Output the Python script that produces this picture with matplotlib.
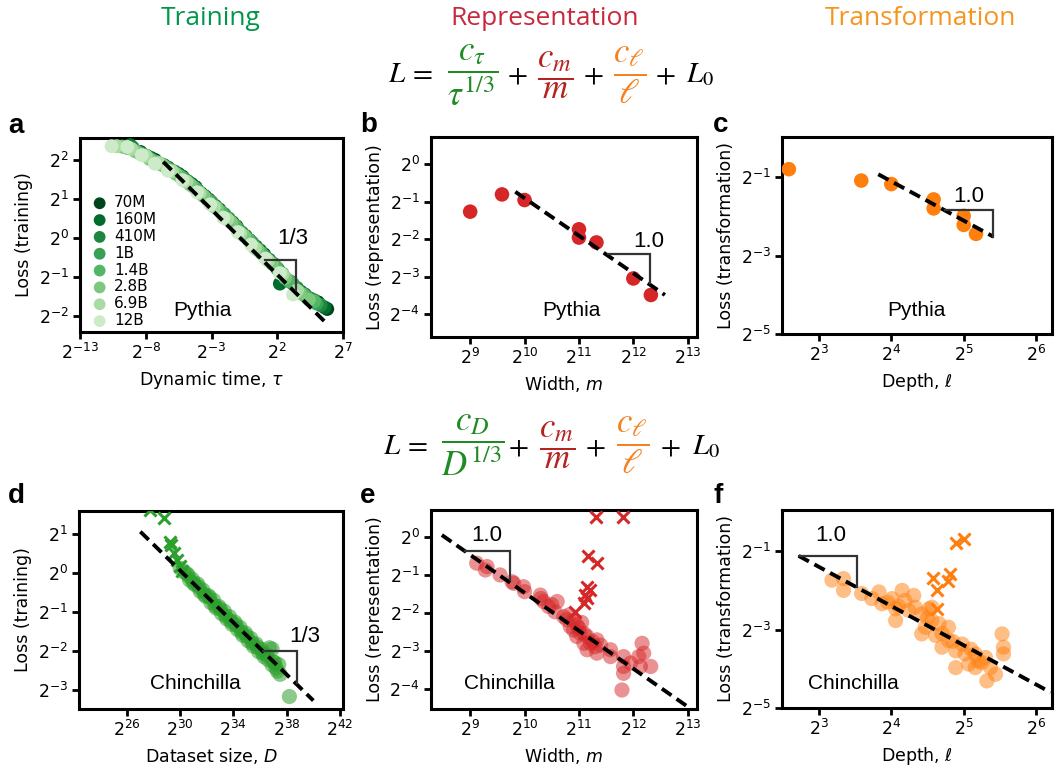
import numpy as np
import matplotlib
matplotlib.use("Agg")
import matplotlib.pyplot as plt
from matplotlib.ticker import FixedLocator, NullLocator, LogFormatterSciNotation

# ---------------- data (log2 values) ----------------
pythia_sizes = ["70M", "160M", "410M", "1B", "1.4B", "2.8B", "6.9B", "12B"]

tau_70M = [-8.4, -7.3, -6.3, -5.2, -4.2, -3.2, -2.1, -1.1, -0.1, 1.0, 2.0, 3.0, 4.1, 5.1, 5.8]
loss_70M = [2.20, 2.00, 1.80, 1.57, 1.30, 0.98, 0.62, 0.30, -0.06, -0.42, -0.78, -1.12, -1.45, -1.65, -1.82]
tau_160M = [-9.2, -7.6, -6.6, -5.5, -4.5, -3.5, -2.4, -1.4, -0.4, 0.7, 1.7, 2.2, 3.8, 4.8, 5.6]
loss_160M = [2.38, 2.05, 1.86, 1.64, 1.38, 1.07, 0.73, 0.40, 0.05, -0.32, -0.66, -1.17, -1.38, -1.60, -1.78]
tau_410M = [-9.0, -7.9, -6.9, -5.8, -4.8, -3.8, -2.7, -1.7, -0.7, 0.4, 1.4, 2.4, 3.5, 4.5, 5.3]
loss_410M = [2.32, 2.10, 1.90, 1.70, 1.45, 1.15, 0.82, 0.50, 0.14, -0.22, -0.56, -0.92, -1.28, -1.55, -1.72]
tau_1B = [-9.3, -8.2, -7.2, -6.1, -5.1, -4.1, -3.0, -2.0, -1.0, 0.1, 1.1, 2.1, 3.2, 4.2, 5.0]
loss_1B = [2.30, 2.14, 1.95, 1.74, 1.53, 1.24, 0.92, 0.60, 0.24, -0.12, -0.48, -0.82, -1.18, -1.50, -1.68]
tau_1_4B = [-9.5, -8.5, -7.4, -6.4, -5.4, -4.3, -3.3, -2.3, -1.2, -0.2, 0.8, 1.9, 2.9, 4.0, 4.8]
loss_1_4B = [2.32, 2.18, 1.97, 1.80, 1.58, 1.29, 0.98, 0.67, 0.31, -0.04, -0.39, -0.74, -1.10, -1.45, -1.62]
tau_2_8B = [-9.8, -8.8, -7.7, -6.7, -5.7, -4.6, -3.6, -2.6, -1.5, -0.5, 0.5, 1.6, 2.6, 3.7, 4.4]
loss_2_8B = [2.34, 2.22, 2.02, 1.86, 1.64, 1.36, 1.07, 0.76, 0.40, 0.05, -0.30, -0.66, -1.02, -1.40, -1.58]
tau_6_9B = [-10.2, -9.1, -8.0, -7.0, -6.0, -4.9, -3.9, -2.8, -1.8, -0.8, 0.3, 1.3, 2.4, 3.5]
loss_6_9B = [2.35, 2.28, 2.10, 1.92, 1.71, 1.44, 1.15, 0.80, 0.48, 0.12, -0.26, -0.58, -0.93, -1.35]
tau_12B = [-10.6, -9.4, -8.3, -7.3, -6.3, -5.2, -4.1, -3.1, -2.1, -1.0, 0.0, 1.1, 2.2, 3.2]
loss_12B = [2.35, 2.33, 2.12, 1.90, 1.72, 1.48, 1.17, 0.86, 0.52, 0.15, -0.17, -0.53, -0.90, -1.45]

pythia_width = [512, 768, 1024, 2048, 2048, 2560, 4096, 5120]
pythia_rep_loss = [-1.27, -0.81, -0.96, -1.74, -1.96, -2.09, -3.05, -3.49]
pythia_depth = [6, 12, 16, 24, 24, 32, 32, 36]
pythia_tra_loss = [-0.80, -1.09, -1.18, -1.57, -1.80, -1.99, -2.22, -2.45]

chin_D = [30.0, 30.3, 30.5, 30.7, 30.9, 31.1, 31.3, 31.5, 31.7, 31.9, 32.1, 32.3, 32.5, 32.7, 32.9,
          33.1, 33.3, 33.5, 33.7, 33.9, 34.1, 34.3, 34.5, 34.7, 34.9, 35.1, 35.3, 35.5, 35.7, 35.9,
          36.1, 36.3, 36.5, 36.7, 36.9, 37.1, 37.3, 37.5, 30.6, 31.0, 31.4, 31.8, 32.2, 32.6, 33.0,
          33.4, 33.8, 34.2, 34.6, 35.0, 35.4, 35.8, 36.2, 36.6, 37.0, 37.2, 36.9, 37.4, 38.2]
chin_train_loss = [0.12, 0.02, -0.02, -0.18, -0.16, -0.30, -0.28, -0.47, -0.44, -0.60, -0.58, -0.76,
                   -0.70, -0.90, -0.86, -1.04, -0.98, -1.18, -1.12, -1.32, -1.26, -1.45, -1.40, -1.60,
                   -1.54, -1.74, -1.68, -1.88, -1.82, -2.02, -1.96, -2.15, -2.10, -1.92, -2.36, -2.30,
                   -2.52, -2.60, -0.06, -0.26, -0.36, -0.55, -0.62, -0.84, -0.92, -1.10, -1.24, -1.33,
                   -1.52, -1.62, -1.80, -1.90, -2.06, -2.22, -2.28, -2.44, -1.95, -2.35, -3.17]
chin_D_out = [27.75, 28.8, 29.2, 29.3, 29.5, 29.75, 29.98, 30.1]
chin_train_out = [1.62, 1.40, 0.80, 0.72, 0.50, 0.33, 0.18, 0.05]

chin_width = [9.12, 9.31, 9.28, 9.55, 9.77, 9.80, 9.98, 10.0, 10.29, 10.35, 10.6, 10.44, 10.56, 10.72,
              10.78, 10.84, 10.96, 10.9, 11.02, 10.96, 11.09, 11.15, 11.21, 11.15, 11.3, 11.33, 11.33,
              11.58, 11.58, 11.82, 11.82, 11.82, 11.95, 12.1, 12.16, 12.19, 12.13, 12.32, 11.79, 10.82,
              10.9, 11.0, 11.05, 11.1, 11.25, 11.4, 10.3, 10.5]
chin_rep_loss = [-0.69, -0.78, -0.87, -1.0, -1.18, -1.22, -1.31, -1.44, -1.53, -1.70, -1.70, -1.83,
                 -1.97, -2.10, -2.18, -2.36, -2.32, -2.45, -2.53, -2.62, -2.80, -2.62, -2.80, -2.97,
                 -2.89, -2.71, -3.06, -2.97, -3.15, -3.15, -3.41, -3.59, -3.32, -3.15, -2.80, -3.06,
                 -3.41, -3.41, -4.03, -2.05, -2.2, -2.4, -2.25, -2.55, -2.75, -2.85, -1.62, -1.78]
chin_width_out = [11.31, 11.81, 11.17, 11.33, 11.15, 11.20, 11.12, 11.15, 11.09, 10.93]
chin_rep_out = [0.52, 0.52, -0.50, -0.69, -1.31, -1.39, -1.53, -1.61, -1.75, -1.97]

chin_depth = [3.18, 3.34, 3.34, 3.59, 3.73, 3.83, 3.87, 4.01, 4.06, 4.19, 4.24, 4.33, 4.42, 4.47, 4.56,
              4.66, 4.61, 4.79, 4.79, 4.70, 4.89, 4.98, 5.02, 4.89, 5.16, 5.16, 5.30, 5.32, 5.37, 5.44,
              5.53, 5.55, 5.55, 4.06, 4.42, 4.52, 4.31, 4.15, 5.07, 5.25, 4.56, 3.95, 4.1, 4.5, 4.7,
              4.85, 5.1, 5.2]
chin_tra_loss = [-1.74, -1.70, -2.0, -2.08, -2.21, -2.04, -2.34, -2.21, -2.47, -2.26, -2.51, -2.43,
                 -2.60, -2.94, -2.77, -2.85, -3.15, -2.94, -3.28, -3.45, -3.54, -3.37, -3.62, -3.97,
                 -3.62, -3.97, -3.71, -4.31, -3.97, -4.14, -3.11, -3.45, -3.62, -2.77, -3.11, -2.47,
                 -2.13, -2.0, -3.88, -3.84, -2.43, -2.3, -2.4, -2.7, -3.1, -3.3, -3.5, -3.8]
chin_depth_out = [4.90, 5.00, 4.58, 4.81, 4.78, 4.63, 4.63]
chin_tra_out = [-0.80, -0.70, -1.68, -1.57, -1.76, -2.00, -2.47]

# ---------------- styling ----------------
W, H = 1057, 765
fig = plt.figure(figsize=(W / 100, H / 100), dpi=100)

def fx(x):
    return x / W

def fy(y):
    return 1 - y / H

def rect(x0, y0, x1, y1):
    return [fx(x0), fy(y1), (x1 - x0) / W, (y1 - y0) / H]

SANS = "Liberation Sans"
GREEN, RED, ORANGE = "#2ca02c", "#d62728", "#ff7f0e"
greens = ["#00441b", "#006d2c", "#1d8641", "#37a055", "#54b567", "#7dc87e", "#a8dca2", "#cdebc8"]

def setup(ax, xlim, ylim, xt, yt, xlabel, ylabel):
    ax.set_xscale("log", base=2)
    ax.set_yscale("log", base=2)
    ax.set_xlim(2.0 ** xlim[0], 2.0 ** xlim[1])
    ax.set_ylim(2.0 ** ylim[0], 2.0 ** ylim[1])
    for axis, t in ((ax.xaxis, xt), (ax.yaxis, yt)):
        axis.set_major_locator(FixedLocator(2.0 ** np.array(t, dtype=float)))
        axis.set_minor_locator(NullLocator())
        axis.set_major_formatter(LogFormatterSciNotation(base=2))
    for s in ax.spines.values():
        s.set_linewidth(2.2)
    ax.tick_params(which="major", direction="out", length=5, width=2, labelsize=12.5, pad=3)
    ax.set_xlabel(xlabel, fontsize=12.5, labelpad=4)
    ax.set_ylabel(ylabel, fontsize=12.5, labelpad=4)

def fit(ax, lx0, lx1, ly0, slope):
    xs = np.array([lx0, lx1])
    ys = ly0 + slope * (xs - lx0)
    ax.plot(2.0 ** xs, 2.0 ** ys, color="black", lw=2.8, dashes=(3, 1.6), zorder=5)

def tri(ax, x0, x1, y0, y1, label, tx, ty):
    ax.plot(2.0 ** np.array([x0, x1, x1]), 2.0 ** np.array([y0, y0, y1]),
            color="#333333", lw=1.6, zorder=6, solid_joinstyle="miter")
    ax.text(2.0 ** tx, 2.0 ** ty, label, fontsize=16, family=SANS, ha="center", va="center", zorder=7)

def tag(ax, text, x, y):
    ax.text(x, y, text, transform=ax.transAxes, fontsize=15, family=SANS, ha="center", va="center")

# ---------------- panel a ----------------
ax = fig.add_axes(rect(80, 138, 343, 332))
setup(ax, (-13, 7), (-2.41, 2.56), [-13, -8, -3, 2, 7], [-2, -1, 0, 1, 2],
      r"Dynamic time, $\tau$", "Loss (training)")
taus = [tau_70M, tau_160M, tau_410M, tau_1B, tau_1_4B, tau_2_8B, tau_6_9B, tau_12B]
losses = [loss_70M, loss_160M, loss_410M, loss_1B, loss_1_4B, loss_2_8B, loss_6_9B, loss_12B]
handles = []
for t, l, c, name in zip(taus, losses, greens, pythia_sizes):
    h = ax.scatter(np.exp2(t), np.exp2(l), s=100, color=c, edgecolors="none", label=name, zorder=3)
    handles.append(h)
fit(ax, -6.67, 5.76, 1.95, -1 / 3)
tri(ax, 1.07, 3.43, -0.56, -1.34, "1/3", 3.15, -0.02)
tag(ax, "Pythia", 0.467, 0.11)
ax.legend(handles=handles, loc="lower left", bbox_to_anchor=(0.005, -0.035), frameon=False,
          fontsize=11, labelspacing=0.12, handletextpad=0.45, handlelength=1.0,
          borderaxespad=0.3, markerscale=0.85)

# ---------------- panel b ----------------
ax = fig.add_axes(rect(431, 137, 697, 337))
setup(ax, (8.28, 13.17), (-4.61, 0.72), [9, 10, 11, 12, 13], [-4, -3, -2, -1, 0],
      r"Width, $m$", "Loss (representation)")
ax.scatter(pythia_width, np.exp2(pythia_rep_loss), s=110, color=RED, edgecolors="none", zorder=3)
fit(ax, 9.83, 12.58, -0.74, -1)
tri(ax, 11.54, 12.30, -2.41, -3.16, "1.0", 12.29, -2.07)
tag(ax, "Pythia", 0.529, 0.13)

# ---------------- panel c ----------------
ax = fig.add_axes(rect(782, 137, 1052, 334))
setup(ax, (2.49, 6.22), (-5, 0.02), [3, 4, 5, 6], [-5, -3, -1],
      r"Depth, $\ell$", "Loss (transformation)")
ax.scatter(pythia_depth, np.exp2(pythia_tra_loss), s=110, color=ORANGE, edgecolors="none", zorder=3)
fit(ax, 3.82, 5.41, -0.93, -1)
tri(ax, 4.74, 5.40, -1.84, -2.52, "1.0", 5.07, -1.50)
tag(ax, "Pythia", 0.499, 0.118)

# ---------------- panel d ----------------
ax = fig.add_axes(rect(79, 511, 343, 709))
setup(ax, (22.39, 42.23), (-3.49, 1.59), [26, 30, 34, 38, 42], [-3, -2, -1, 0, 1],
      r"Dataset size, $D$", "Loss (training)")
ax.scatter(np.exp2(chin_D), np.exp2(chin_train_loss), s=120, color=GREEN, alpha=0.55,
           edgecolors="none", zorder=3)
ax.scatter(np.exp2(chin_D_out), np.exp2(chin_train_out), s=75, marker="x", color=GREEN,
           linewidths=2.2, zorder=4)
fit(ax, 27.0, 40.0, 1.06, -1 / 3)
tri(ax, 36.24, 38.8, -2.0, -2.83, "1/3", 39.37, -1.63)
tag(ax, "Chinchilla", 0.44, 0.13)

# ---------------- panel e ----------------
ax = fig.add_axes(rect(431, 510, 697, 709))
setup(ax, (8.28, 13.17), (-4.53, 0.71), [9, 10, 11, 12, 13], [-4, -3, -2, -1, 0],
      r"Width, $m$", "Loss (representation)")
ax.scatter(np.exp2(chin_width), np.exp2(chin_rep_loss), s=120, color=RED, alpha=0.5,
           edgecolors="none", zorder=3)
ax.scatter(np.exp2(chin_width_out), np.exp2(chin_rep_out), s=75, marker="x", color=RED,
           linewidths=2.2, zorder=4)
fit(ax, 8.48, 13.02, 0.05, -1)
tri(ax, 8.91, 9.74, -0.36, -1.13, "1.0", 9.31, 0.05)
tag(ax, "Chinchilla", 0.294, 0.129)

# ---------------- panel f ----------------
ax = fig.add_axes(rect(782, 510, 1052, 708))
setup(ax, (2.49, 6.22), (-5, 0.05), [3, 4, 5, 6], [-5, -3, -1],
      r"Depth, $\ell$", "Loss (transformation)")
ax.scatter(np.exp2(chin_depth), np.exp2(chin_tra_loss), s=120, color=ORANGE, alpha=0.5,
           edgecolors="none", zorder=3)
ax.scatter(np.exp2(chin_depth_out), np.exp2(chin_tra_out), s=75, marker="x", color=ORANGE,
           linewidths=2.2, zorder=4)
fit(ax, 2.72, 6.2, -1.12, -1)
tri(ax, 2.72, 3.53, -1.12, -1.92, "1.0", 3.16, -0.59)
tag(ax, "Chinchilla", 0.266, 0.125)

# ---------------- panel letters ----------------
for letter, x, y in [("a", 8, 133), ("b", 360, 132), ("c", 713, 132),
                     ("d", 8, 503), ("e", 360, 503), ("f", 713, 503)]:
    fig.text(fx(x), fy(y), letter, fontsize=20, fontweight="bold", family=SANS,
             ha="left", va="baseline")

# ---------------- column titles ----------------
for text, x, c in [("Training", 211, "#00964b"), ("Representation", 545, "#c8283c"),
                   ("Transformation", 920, "#f7941d")]:
    fig.text(fx(x), fy(25), text, fontsize=19, family="Open Sans", color=c,
             ha="center", va="baseline")

# ---------------- equations ----------------
EQG, EQR, EQO = "#1f8b24", "#b5231f", "#f58220"
eq = dict(fontsize=21, math_fontfamily="stix")
fr = dict(fontsize=25, math_fontfamily="stix", va="center", ha="center")

def equation(base_y, bar_y, lx, f1, c1x, c2x, c3x, p1x, p2x, p3x, l0x):
    fig.text(fx(lx), fy(base_y), r"$L\,=$", ha="left", va="baseline", **eq)
    fig.text(fx(c1x), fy(bar_y), f1, color=EQG, **fr)
    fig.text(fx(c2x), fy(bar_y), r"$\dfrac{c_m}{m}$", color=EQR, **fr)
    fig.text(fx(c3x), fy(bar_y), r"$\dfrac{c_\ell}{\ell}$", color=EQO, **fr)
    for px in (p1x, p2x, p3x):
        fig.text(fx(px), fy(base_y), r"$+$", ha="center", va="baseline", **eq)
    fig.text(fx(l0x), fy(base_y), r"$L_0$", ha="left", va="baseline", **eq)

equation(82, 75, 388, r"$\dfrac{c_\tau}{\tau^{1/3}}$", 472.5, 555, 629.5, 517, 593, 665, 686)
equation(454, 445, 383, r"$\dfrac{c_D}{D^{1/3}}$", 473, 557.5, 632.5, 518, 595, 670, 692)

fig.savefig("out.png", dpi=100)
